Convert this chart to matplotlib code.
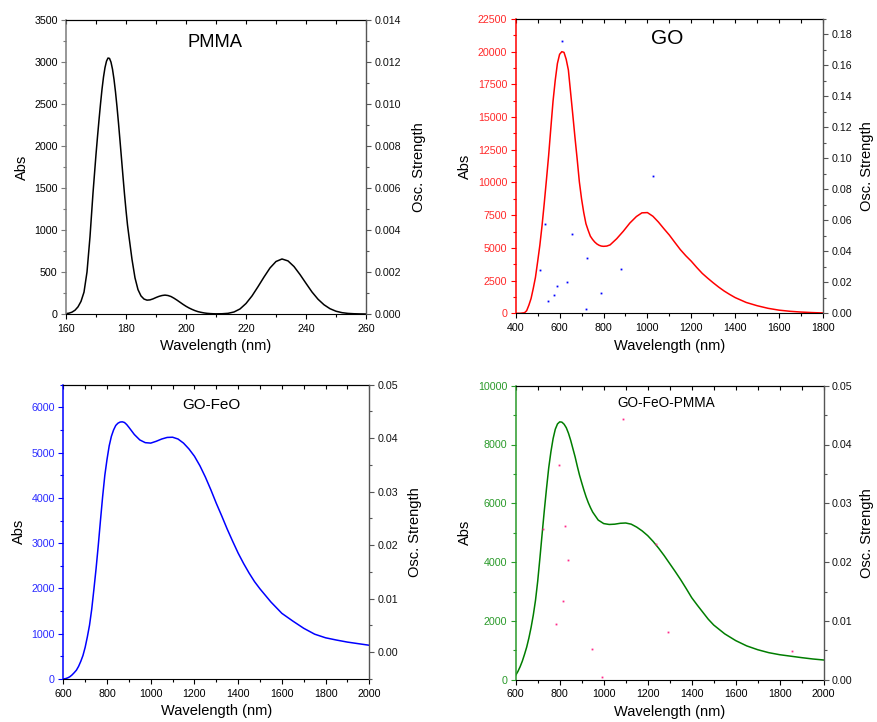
import matplotlib
matplotlib.use('Agg')
import matplotlib.pyplot as plt
from matplotlib.ticker import MultipleLocator, FormatStrFormatter

plt.rcParams['font.family'] = ['Liberation Sans', 'DejaVu Sans']

# ---------------- data ----------------
pmma_nm = [160, 161, 162, 163, 164, 165, 166, 167, 168, 169, 170, 170.5, 171, 171.5, 172,
           172.5, 173, 173.5, 174, 174.5, 175, 175.5, 176, 176.5, 177, 177.5, 178, 178.5,
           179, 179.5, 180, 180.5, 181, 182, 183, 184, 185, 186, 187, 188, 189,
           190, 191, 192, 193, 194, 195, 196, 197, 198, 199, 200, 201, 202, 203, 204,
           205, 206, 207, 208, 209, 210, 212, 214, 216, 218, 220, 222, 224, 226, 228,
           230, 232, 234, 236, 238, 240, 242, 244, 246, 248, 250, 252, 254, 256, 258, 260]
pmma_abs = [4, 10, 22, 45, 85, 150, 260, 500, 920, 1440, 1900, 2110, 2310, 2500, 2675,
            2821, 2934, 3010, 3047, 3043, 2998, 2914, 2794, 2643, 2467, 2272, 2064, 1850,
            1636, 1427, 1235, 1060, 920, 650, 430, 290, 215, 178, 165, 168, 180,
            196, 210, 220, 225, 220, 208, 188, 165, 140, 115, 92, 72, 55, 40, 28,
            20, 13, 8, 5, 3, 2, 3, 8, 24, 60, 125, 215, 325, 440, 548,
            625, 655, 632, 565, 470, 365, 262, 176, 110, 63, 33, 16, 7, 3, 1, 0]

go_nm = [400, 420, 440, 450, 460, 470, 480, 490, 500, 510, 520, 530, 540, 550, 560, 570,
         580, 590, 600, 610, 620, 630, 640, 650, 660, 670, 680, 690, 700, 710, 720, 730,
         740, 750, 760, 770, 780, 790, 800, 815, 830, 860, 890, 920, 950, 975, 1000, 1025,
         1050, 1075, 1100, 1125, 1150, 1175, 1200, 1225, 1250, 1275, 1300, 1325, 1350,
         1375, 1400, 1450, 1500, 1550, 1600, 1650, 1700, 1750, 1800]
go_abs = [0, 0, 40, 200, 620, 1130, 1900, 2750, 3950, 5200, 6700, 8400, 10200, 12050,
          14150, 16200, 17800, 19100, 19800, 20000, 19950, 19420, 18600, 16900, 15200,
          13450, 11800, 10050, 8750, 7700, 6850, 6350, 5900, 5650, 5450, 5300, 5200, 5140,
          5120, 5140, 5230, 5700, 6270, 6900, 7400, 7680, 7700, 7420, 6980, 6470, 5980,
          5420, 4870, 4400, 3980, 3500, 3050, 2680, 2330, 2000, 1700, 1440, 1200, 830, 580,
          380, 240, 153, 95, 55, 25]
go_osc_nm = [512, 535, 549, 576, 590, 612, 635, 658, 722, 726, 790, 881, 1027]
go_osc_f = [0.0278, 0.0575, 0.0078, 0.0116, 0.0174, 0.1757, 0.0200, 0.0510, 0.0026,
            0.0355, 0.0129, 0.0284, 0.0885]

gofeo_nm = [600, 610, 620, 630, 640, 650, 660, 670, 680, 690, 700, 710, 720, 730, 740, 750,
            760, 770, 780, 790, 800, 810, 820, 830, 840, 850, 860, 870, 880, 890, 900, 925,
            950, 975, 1000, 1025, 1050, 1075, 1100, 1125, 1150, 1175, 1200, 1225, 1250,
            1275, 1300, 1325, 1350, 1375, 1400, 1425, 1450, 1475, 1500, 1550, 1600, 1650,
            1700, 1750, 1800, 1850, 1900, 1950, 2000]
gofeo_abs = [0, 8, 25, 50, 90, 140, 195, 280, 390, 520, 700, 930, 1190, 1540, 1980, 2440,
             2950, 3500, 4030, 4500, 4850, 5150, 5360, 5500, 5600, 5650, 5675, 5680, 5665,
             5620, 5560, 5400, 5280, 5220, 5210, 5250, 5300, 5335, 5340, 5300, 5210, 5080,
             4920, 4710, 4460, 4180, 3880, 3600, 3310, 3040, 2780, 2550, 2340, 2150, 1990,
             1700, 1450, 1280, 1120, 990, 910, 860, 815, 780, 745]

gfp_nm = [600, 610, 620, 630, 640, 650, 660, 670, 680, 690, 700, 710, 720, 730, 740, 750,
          760, 770, 780, 790, 800, 810, 820, 830, 840, 850, 860, 870, 880, 890, 900, 910,
          920, 930, 940, 950, 975, 1000, 1025, 1050, 1075, 1100, 1125, 1150, 1175, 1200,
          1225, 1250, 1275, 1300, 1325, 1350, 1375, 1400, 1425, 1450, 1475, 1500, 1550,
          1600, 1650, 1700, 1750, 1800, 1850, 1900, 1950, 2000]
gfp_abs = [150, 280, 440, 630, 860, 1110, 1420, 1780, 2200, 2700, 3350, 4130, 4950, 5750,
           6500, 7200, 7750, 8200, 8520, 8700, 8770, 8760, 8690, 8570, 8380, 8140, 7860,
           7580, 7260, 6960, 6700, 6450, 6220, 6020, 5850, 5700, 5430, 5310, 5280, 5290,
           5320, 5330, 5290, 5190, 5060, 4900, 4700, 4470, 4220, 3950, 3680, 3400, 3100,
           2790, 2540, 2300, 2060, 1860, 1560, 1330, 1150, 1020, 920, 850, 800, 750, 705,
           670]
gfp_osc_nm = [725, 785, 797, 816, 825, 839, 948, 994, 1089, 1238, 1294, 1854]
gfp_osc_f = [0.0256, 0.0094, 0.0365, 0.0134, 0.0261, 0.0203, 0.0052, 0.0005, 0.0443,
             0.0230, 0.0081, 0.0048]

# ---------------- figure ----------------
W, H = 877, 722
fig = plt.figure(figsize=(W / 100, H / 100), dpi=100)


def box(l, r, t, b):
    return [l / W, (H - b) / H, (r - l) / W, (b - t) / H]


TICK_FS = 7.7
LAB_FS = 10.5
AX_GREY = '#555555'


def panel(rect, x, y, line_color, left_color, label_color, xlim, xmaj, xmin_,
          ylim, ymaj, ymin_, y2lim, y2maj, y2min, y2fmt, title, tpos, tsize,
          dx=None, dy=None, dot_color=None, y2pad=7):
    ax = fig.add_axes(rect)
    ax.plot(x, y, color=line_color, lw=1.1, solid_joinstyle='round')
    ax.set_xlim(xlim)
    ax.set_ylim(ylim)
    ax.xaxis.set_major_locator(MultipleLocator(xmaj))
    ax.xaxis.set_minor_locator(MultipleLocator(xmin_))
    ax.yaxis.set_major_locator(MultipleLocator(ymaj))
    ax.yaxis.set_minor_locator(MultipleLocator(ymin_))
    ax.tick_params(axis='x', which='both', direction='out', bottom=True, top=False,
                   labelsize=TICK_FS, pad=3.5, width=0.8)
    ax.tick_params(axis='x', which='major', length=3.5)
    ax.tick_params(axis='x', which='minor', length=2.5)
    ax.tick_params(axis='y', which='both', direction='out', left=True, right=False,
                   labelsize=TICK_FS, pad=2.5, colors=left_color, labelcolor=label_color,
                   width=0.8)
    ax.tick_params(axis='y', which='major', length=3.5)
    ax.tick_params(axis='y', which='minor', length=2.5)
    ax.spines['left'].set_color(left_color)
    ax.spines['left'].set_linewidth(1.1)
    ax.spines['bottom'].set_linewidth(0.8)
    ax.spines['top'].set_linewidth(0.8)
    ax.spines['right'].set_visible(False)
    ax.set_xlabel('Wavelength (nm)', fontsize=LAB_FS, labelpad=4)
    ax.set_ylabel('Abs', fontsize=LAB_FS, labelpad=4)

    sec = ax.secondary_xaxis('top')
    sec.xaxis.set_major_locator(MultipleLocator(xmin_))
    sec.tick_params(axis='x', which='both', direction='in', length=3, width=0.8,
                    labeltop=False)
    sec.spines['top'].set_linewidth(0.8)

    ax2 = ax.twinx()
    ax2.set_ylim(y2lim)
    ax2.yaxis.set_major_locator(MultipleLocator(y2maj))
    ax2.yaxis.set_minor_locator(MultipleLocator(y2min))
    ax2.yaxis.set_major_formatter(FormatStrFormatter(y2fmt))
    ax2.tick_params(axis='y', which='both', direction='out', labelsize=TICK_FS, pad=2.5,
                    colors=AX_GREY, labelcolor='#111111', width=0.8)
    ax2.tick_params(axis='y', which='major', length=3.5)
    ax2.tick_params(axis='y', which='minor', length=2.5)
    for s in ('left', 'top', 'bottom'):
        ax2.spines[s].set_visible(False)
    ax2.spines['right'].set_color(AX_GREY)
    ax2.spines['right'].set_linewidth(1.0)
    ax2.set_ylabel('Osc. Strength', fontsize=LAB_FS, labelpad=y2pad)
    if dx is not None:
        ax2.plot(dx, dy, 's', ms=1.3, mew=0, color=dot_color, ls='none')
    ax.text(tpos[0], tpos[1], title, transform=ax.transAxes, ha='center', va='center',
            fontsize=tsize, color='black')
    return ax, ax2


panel(box(66, 366, 20, 314), pmma_nm, pmma_abs, 'black', '#7a7a7a', 'black',
      (160, 260), 20, 10, (0, 3500), 500, 250, (0, 0.014), 0.002, 0.001, '%.3f',
      'PMMA', (0.497, 0.924), 13.2, y2pad=8)

panel(box(515.7, 823, 19, 313.3), go_nm, go_abs, '#ff0000', '#ff0000', '#ff2a2a',
      (400, 1800), 200, 100, (0, 22500), 2500, 1250, (0, 0.19), 0.02, 0.01, '%.2f',
      'GO', (0.493, 0.934), 15, go_osc_nm, go_osc_f, '#0000ff', y2pad=6)

panel(box(63.3, 369.3, 384.7, 679), gofeo_nm, gofeo_abs, '#0000ff', '#0000ff', '#2a2aff',
      (600, 2000), 200, 100, (0, 6500), 1000, 500, (-0.005, 0.05), 0.01, 0.005, '%.2f',
      'GO-FeO', (0.484, 0.931), 11, y2pad=7)

panel(box(515.7, 823.7, 385.7, 679.7), gfp_nm, gfp_abs, '#007d00', '#2a9a2a', '#2a9a2a',
      (600, 2000), 200, 100, (0, 10000), 2000, 1000, (0, 0.05), 0.01, 0.005, '%.2f',
      'GO-FeO-PMMA', (0.490, 0.940), 9.8, gfp_osc_nm, gfp_osc_f, '#ff2a8a', y2pad=5)

fig.savefig('out.png', dpi=100)
